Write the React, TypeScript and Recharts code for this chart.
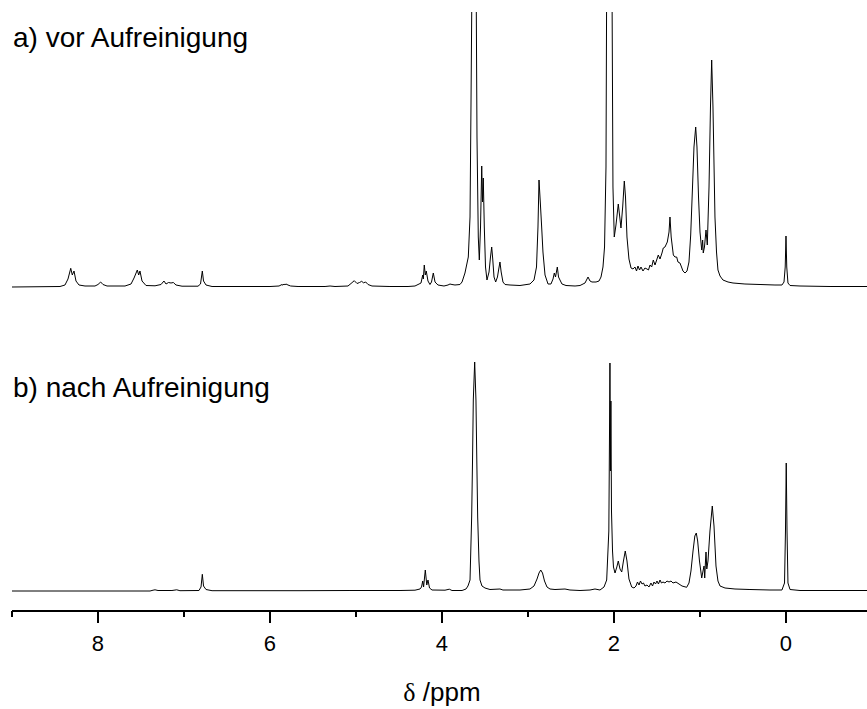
import React from 'react'
import { LineChart, Line, XAxis, YAxis } from 'recharts'

// [δ / ppm, intensity above the trace baseline]
const crudeSpectrum: [number, number][] = [
  [9.0, 0], [8.442, 0.5], [8.384, 2], [8.349, 8], [8.317, 18.7], [8.299, 12], [8.279, 16], [8.256, 6],
  [8.221, 2], [8.151, 1], [8.035, 1], [8.0, 2.5], [7.969, 5], [7.942, 2.5], [7.895, 1], [7.686, 1],
  [7.616, 3], [7.581, 9], [7.543, 17], [7.527, 12], [7.512, 16], [7.488, 6], [7.442, 1.5], [7.337, 1.2],
  [7.267, 2.5], [7.233, 6], [7.209, 3], [7.18, 4.5], [7.151, 4], [7.124, 4.5], [7.093, 2], [7.023, 0.8],
  [6.837, 0.8], [6.808, 3], [6.787, 16], [6.773, 6], [6.744, 2], [6.674, 0.5], [6.0, 0.5], [5.895, 1],
  [5.86, 2.5], [5.849, 1.8], [5.837, 3], [5.826, 2.2], [5.814, 3], [5.791, 2], [5.76, 1], [5.674, 0.5],
  [5.36, 0.5], [5.302, 1], [5.244, 0.5],
  [5.093, 1], [5.058, 3.5], [5.02, 6.3], [4.988, 3.5], [4.959, 4.5], [4.934, 5.7], [4.913, 4.2], [4.887, 5],
  [4.86, 2.5], [4.814, 1], [4.605, 0.5], [4.395, 0.5], [4.314, 1], [4.267, 3], [4.244, 4], [4.224, 12],
  [4.217, 8], [4.206, 22], [4.194, 12], [4.183, 16], [4.163, 6], [4.14, 2.5], [4.122, 5], [4.101, 14],
  [4.081, 5], [4.047, 2], [3.977, 1], [3.93, 2], [3.907, 3], [3.884, 2.5], [3.849, 2], [3.791, 2.5],
  [3.767, 5], [3.733, 14], [3.694, 30], [3.674, 70], [3.663, 180], [3.653, 290], [3.628, 600], [3.602, 290],
  [3.593, 150], [3.578, 50], [3.566, 27], [3.552, 60], [3.538, 121], [3.529, 85], [3.52, 109], [3.508, 60],
  [3.494, 20], [3.477, 7], [3.453, 15], [3.436, 30], [3.422, 40], [3.41, 28], [3.395, 10], [3.376, 5],
  [3.355, 10], [3.34, 18], [3.326, 25], [3.312, 15], [3.291, 5], [3.267, 2.5], [3.209, 2], [3.093, 1.5],
  [2.977, 3], [2.93, 7], [2.901, 20], [2.884, 60], [2.872, 107], [2.857, 85], [2.841, 60], [2.826, 35],
  [2.802, 12], [2.767, 3], [2.733, 3], [2.709, 8], [2.694, 14], [2.68, 10], [2.659, 20], [2.645, 10],
  [2.628, 7], [2.605, 3], [2.558, 1.5], [2.453, 1], [2.395, 1.5], [2.337, 4], [2.302, 10], [2.279, 6],
  [2.256, 5], [2.209, 5], [2.174, 6], [2.151, 10], [2.128, 20], [2.11, 40], [2.093, 120], [2.081, 400],
  [2.058, 700], [2.035, 700], [2.023, 300], [2.012, 100], [1.997, 50], [1.977, 62], [1.95, 83], [1.933, 70],
  [1.919, 59], [1.899, 80], [1.88, 106], [1.866, 90], [1.849, 50], [1.826, 28], [1.802, 19], [1.779, 18],
  [1.756, 20], [1.738, 16], [1.721, 21], [1.703, 17], [1.686, 20], [1.663, 16], [1.64, 19], [1.616, 18],
  [1.599, 17], [1.581, 22], [1.562, 20], [1.543, 27], [1.523, 22], [1.5, 28], [1.485, 32], [1.465, 28],
  [1.442, 34], [1.427, 39], [1.407, 40], [1.38, 45], [1.36, 55], [1.349, 70], [1.335, 50], [1.31, 32],
  [1.291, 30], [1.271, 30], [1.256, 25], [1.233, 24], [1.215, 20], [1.198, 16], [1.174, 14], [1.151, 16],
  [1.128, 25], [1.108, 52], [1.087, 100], [1.07, 140], [1.05, 160], [1.035, 140], [1.017, 90], [1.0, 55],
  [0.98, 37], [0.969, 47], [0.962, 34], [0.948, 40], [0.93, 57], [0.915, 42], [0.895, 100], [0.878, 180],
  [0.864, 227], [0.849, 180], [0.826, 70], [0.808, 35], [0.791, 17], [0.767, 11], [0.733, 7], [0.674, 5],
  [0.616, 4], [0.477, 3], [0.302, 2.5], [0.128, 2], [0.047, 2], [0.023, 5], [0.009, 20], [0.0, 51],
  [-0.009, 20], [-0.023, 4], [-0.047, 1.5], [-0.163, 1], [-0.512, 0.5], [-0.942, 0.5],
]

const purifiedSpectrum: [number, number][] = [
  [9.0, 0], [7.395, 0], [7.36, 0.8], [7.337, 1.2], [7.302, 0.5], [7.14, 0.5], [7.085, 1.2], [7.047, 0.3],
  [6.826, 0.5], [6.802, 4], [6.787, 16.7], [6.773, 5], [6.744, 1.5], [6.674, 0.3], [5.651, 0.3], [5.07, 0.5],
  [4.488, 0.5], [4.314, 0.8], [4.256, 2], [4.238, 4], [4.224, 10], [4.214, 4], [4.194, 21], [4.177, 6],
  [4.163, 11], [4.145, 3], [4.116, 1], [3.965, 0.8], [3.915, 1.8], [3.884, 0.5], [3.767, 0.5], [3.721, 2],
  [3.698, 5], [3.674, 11], [3.655, 74], [3.645, 130], [3.636, 191], [3.62, 229], [3.605, 191], [3.595, 130],
  [3.585, 74], [3.57, 30], [3.558, 11], [3.535, 5], [3.5, 3], [3.442, 1.5], [3.326, 2], [3.291, 1],
  [3.093, 1], [2.977, 2], [2.93, 5], [2.895, 12], [2.872, 18], [2.852, 21], [2.831, 18], [2.808, 10],
  [2.779, 4], [2.744, 2], [2.686, 1.5], [2.57, 2], [2.512, 1], [2.395, 0.5], [2.279, 1], [2.221, 2],
  [2.163, 1], [2.116, 4], [2.085, 11], [2.06, 60], [2.052, 160], [2.047, 228], [2.041, 120], [2.036, 190],
  [2.029, 80], [2.017, 40], [2.006, 24], [1.988, 18], [1.967, 24], [1.95, 30], [1.93, 22], [1.91, 19],
  [1.89, 30], [1.869, 40], [1.849, 30], [1.826, 12], [1.794, 4], [1.767, 3], [1.744, 5], [1.727, 9],
  [1.709, 6], [1.692, 10], [1.674, 7], [1.657, 8], [1.64, 5], [1.616, 6], [1.593, 4], [1.57, 8],
  [1.552, 5], [1.535, 9], [1.517, 7], [1.5, 10], [1.483, 7], [1.465, 11], [1.448, 8], [1.43, 9],
  [1.407, 8], [1.384, 10], [1.36, 9], [1.337, 10], [1.314, 8], [1.279, 9], [1.244, 7], [1.209, 5],
  [1.155, 3.7], [1.128, 8], [1.105, 20], [1.081, 40], [1.06, 55], [1.043, 58], [1.027, 50], [1.006, 30],
  [0.98, 13], [0.965, 20], [0.953, 25], [0.945, 13], [0.936, 30], [0.93, 39], [0.921, 22], [0.907, 30],
  [0.884, 60], [0.857, 85], [0.837, 65], [0.814, 25], [0.791, 10], [0.767, 5], [0.709, 3], [0.593, 2],
  [0.419, 1.5], [0.186, 1], [0.047, 1], [0.017, 8], [0.006, 60], [-0.003, 128], [-0.012, 60], [-0.023, 8],
  [-0.047, 1.5], [-0.163, 0.5], [-0.942, 0.5],
]

const majorTicks = [8, 6, 4, 2, 0]
const minorTicks = [9, 7, 5, 3, 1]
const titles = ['a) vor Aufreinigung', 'b) nach Aufreinigung']

const WIDTH = 867
const HEIGHT = 709
const PLOT_TOP = 12
const AXIS_Y = 611
const Y_MAX = AXIS_Y - PLOT_TOP
// vertical offsets of the two stacked traces
const CRUDE_OFFSET = 324
const PURIFIED_OFFSET = 20

const FONT = '"Liberation Sans", Arial, Helvetica, sans-serif'

const toRows = (pts: [number, number][], offset: number) =>
  pts.map(([ppm, v]) => ({ ppm, y: v + offset }))

const crudeRows = toRows(crudeSpectrum, CRUDE_OFFSET)
const purifiedRows = toRows(purifiedSpectrum, PURIFIED_OFFSET)

const PpmTick = (props: any) => {
  const { x, y, payload } = props
  const major = majorTicks.includes(payload.value)
  return (
    <g>
      <line x1={x} x2={x} y1={y} y2={y + (major ? 12 : 6)} stroke="#000" strokeWidth={2} />
      {major && (
        <text x={x} y={y + 40} textAnchor="middle" fontSize={22} fontFamily={FONT} fill="#000">
          {payload.value}
        </text>
      )}
    </g>
  )
}

export default function App() {
  const ticks = [...majorTicks, ...minorTicks].sort((a, b) => b - a)
  return (
    <div style={{ position: 'absolute', left: 0, top: 0, width: WIDTH, height: HEIGHT, background: '#fff' }}>
      <LineChart width={WIDTH} height={HEIGHT} margin={{ top: PLOT_TOP, right: 0, left: 12, bottom: 0 }}>
        <XAxis
          type="number"
          dataKey="ppm"
          domain={[-0.942, 9]}
          reversed
          allowDataOverflow
          ticks={ticks}
          interval={0}
          tick={<PpmTick />}
          tickLine={false}
          tickSize={0}
          tickMargin={0}
          axisLine={{ stroke: '#000', strokeWidth: 2 }}
          height={HEIGHT - AXIS_Y}
        />
        <YAxis hide type="number" domain={[0, Y_MAX]} allowDataOverflow />
        <Line
          data={crudeRows}
          dataKey="y"
          type="linear"
          stroke="#000"
          strokeWidth={1}
          dot={false}
          isAnimationActive={false}
        />
        <Line
          data={purifiedRows}
          dataKey="y"
          type="linear"
          stroke="#000"
          strokeWidth={1}
          dot={false}
          isAnimationActive={false}
        />
      </LineChart>
      <svg width={WIDTH} height={HEIGHT} style={{ position: 'absolute', left: 0, top: 0, pointerEvents: 'none' }}>
        <text x={13} y={47} fontSize={28} fontFamily={FONT} fill="#000">{titles[0]}</text>
        <text x={13} y={397} fontSize={28} fontFamily={FONT} fill="#000">{titles[1]}</text>
        <text x={442} y={701} textAnchor="middle" fontSize={26} fill="#000">
          <tspan fontFamily='"Liberation Serif", "Times New Roman", serif'>δ</tspan>
          <tspan fontFamily={FONT}> /ppm</tspan>
        </text>
      </svg>
    </div>
  )
}
